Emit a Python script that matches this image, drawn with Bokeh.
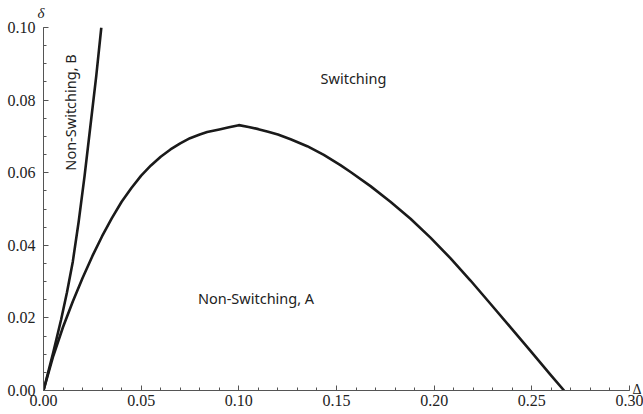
import math
import numpy as np
from bokeh.plotting import figure
from bokeh.models import Range1d, FixedTicker, NumeralTickFormatter, Label, ColumnDataSource
from bokeh.embed import file_html
from bokeh.resources import INLINE

# Curve A (boundary of the "Non-Switching, A" region)
A_x = [0.0, 0.005, 0.010, 0.015, 0.020, 0.025, 0.030, 0.035, 0.040, 0.045, 0.050, 0.055,
       0.060, 0.065, 0.070, 0.075, 0.080, 0.0838, 0.090, 0.095, 0.100, 0.105, 0.110, 0.115,
       0.120, 0.1265, 0.135, 0.1435, 0.1520, 0.1572, 0.1674, 0.1776, 0.1879, 0.1981, 0.2084,
       0.2186, 0.2288, 0.2391, 0.2493, 0.2596, 0.2665]
A_y = [0.0, 0.0095, 0.0175, 0.0245, 0.0310, 0.0370, 0.0425, 0.0475, 0.0520, 0.0558, 0.0592, 0.0620,
       0.0644, 0.0664, 0.0681, 0.0695, 0.0705, 0.0712, 0.0719, 0.0725, 0.0731, 0.0726, 0.0720, 0.0713,
       0.0705, 0.0692, 0.0673, 0.0649, 0.0621, 0.0602, 0.0563, 0.0520, 0.0473, 0.0421, 0.0364,
       0.0303, 0.0239, 0.0174, 0.0109, 0.0043, 0.0]

# Curve B (boundary of the "Non-Switching, B" region)
B_x = [0.0, 0.005, 0.009, 0.012, 0.015, 0.018, 0.021, 0.024, 0.027, 0.0296]
B_y = [0.0, 0.0105, 0.0195, 0.0270, 0.0355, 0.0465, 0.0590, 0.0728, 0.0866, 0.1000]

x_ticks = [0.00, 0.05, 0.10, 0.15, 0.20, 0.25, 0.30]
y_ticks = [0.00, 0.02, 0.04, 0.06, 0.08, 0.10]

p = figure(width=643, height=414, output_backend="svg", toolbar_location=None,
           x_range=Range1d(0, 0.30), y_range=Range1d(0, 0.10),
           min_border_left=43, min_border_right=14, min_border_top=27, min_border_bottom=24)
p.grid.visible = False
p.outline_line_color = None
p.background_fill_color = "white"
p.border_fill_color = "white"

x_minor = [round(v, 4) for v in np.arange(0.0, 0.3001, 0.01)]
y_minor = [round(v, 4) for v in np.arange(0.0, 0.1001, 0.005)]
p.xaxis.ticker = FixedTicker(ticks=x_ticks, minor_ticks=x_minor)
p.yaxis.ticker = FixedTicker(ticks=y_ticks, minor_ticks=y_minor)
for ax in (p.xaxis[0], p.yaxis[0]):
    ax.formatter = NumeralTickFormatter(format="0.00")
    ax.axis_line_color = "#555555"
    ax.axis_line_width = 1
    ax.major_tick_line_color = "#555555"
    ax.minor_tick_line_color = "#555555"
    ax.major_tick_in = 5
    ax.major_tick_out = 0
    ax.minor_tick_in = 3
    ax.minor_tick_out = 0
    ax.major_label_text_font = "Liberation Serif"
    ax.major_label_text_font_size = "16px"
    ax.major_label_text_color = "#222222"
p.xaxis.major_label_standoff = 4
p.yaxis.major_label_standoff = 8

src_a = ColumnDataSource(dict(x=A_x, y=A_y))
src_b = ColumnDataSource(dict(x=B_x, y=B_y))
p.line("x", "y", source=src_a, line_color="#1a1a1a", line_width=2.6, line_join="round")
p.line("x", "y", source=src_b, line_color="#1a1a1a", line_width=2.6, line_join="round")

font = "Noto Sans"
p.add_layout(Label(x=0.1587, y=0.0862, text="Switching", text_font=font, text_font_size="14.5px",
                   text_align="center", text_baseline="middle", text_color="#222222"))
p.add_layout(Label(x=0.1088, y=0.0256, text="Non-Switching, A", text_font=font, text_font_size="14.5px",
                   text_align="center", text_baseline="middle", text_color="#222222"))
p.add_layout(Label(x=0.0135, y=0.0766, text="Non-Switching, B", text_font=font, text_font_size="14.5px",
                   text_align="center", text_baseline="middle", angle=math.pi / 2, text_color="#222222"))

# axis names, placed in the side panels so they are not clipped by the frame
p.add_layout(Label(x=-6, y=7, x_units="screen", y_units="screen", text="δ",
                   text_font="Liberation Serif", text_font_style="italic", text_font_size="15px",
                   text_align="left", text_baseline="bottom", text_color="#222222"), "above")
p.add_layout(Label(x=3, y=1, x_units="screen", y_units="screen", text="Δ",
                   text_font="Liberation Serif", text_font_size="14px",
                   text_align="left", text_baseline="middle", text_color="#222222"), "right")

open("out.html", "w").write(file_html(p, INLINE))
